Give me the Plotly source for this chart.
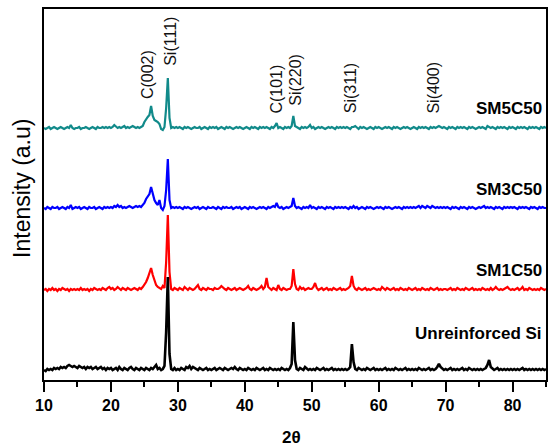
import plotly.graph_objects as go

# ---- scan grid (2theta) ----
SCAN_START = 10.0
SCAN_STEP = 0.25

# ---- intensities (a.u.), relative to each pattern's own baseline ----
UNREINFORCED_SI = [
    2,1,3,2,3,2,4,3,4,3,5,4,5,4,6,7,6,5,6,5,
    4,6,5,4,5,3,5,4,5,3,4,5,3,4,5,3,4,2,4,3,
    4,2,3,4,2,5,3,2,4,3,2,4,5,3,2,4,3,2,4,3,
    2,4,3,2,4,3,5,7,3,4,2,3,6,40,95,18,3,2,4,2,
    3,2,4,3,2,5,4,6,3,5,4,3,2,4,3,2,3,4,2,3,
    2,3,4,2,3,4,3,2,4,3,2,3,4,3,5,3,2,4,3,2,
    3,2,4,3,2,3,2,4,3,2,3,4,2,3,2,4,3,2,3,2,
    3,2,4,3,2,3,2,4,8,50,12,3,2,4,3,2,5,3,2,3,
    2,3,2,4,3,2,3,4,2,3,2,3,4,2,3,2,3,2,3,2,
    3,2,3,5,28,10,3,2,4,3,2,3,2,4,3,2,3,4,2,3,
    2,3,2,3,4,2,3,2,3,2,4,3,2,3,2,3,4,2,3,2,
    3,2,3,2,4,3,2,3,2,3,4,2,3,2,3,5,8,5,3,2,
    3,2,3,4,2,3,2,3,2,3,4,2,3,2,4,3,2,3,2,3,
    2,3,2,3,4,7,12,5,3,2,3,4,2,3,2,3,2,3,2,3,
    2,3,2,3,2,3,4,2,3,2,3,2,3,2,3,2,3,2,3,2,
    3,
]
SM1C50 = [
    2,3,1,3,2,4,2,3,1,3,2,4,3,2,3,1,3,2,3,2,
    3,2,4,2,3,2,3,1,3,2,4,3,2,3,2,4,3,2,4,5,
    3,4,2,3,5,3,2,4,3,2,4,3,2,3,4,3,2,4,3,5,
    7,10,14,19,24,17,11,7,5,4,3,6,4,30,77,20,3,2,4,3,
    2,4,3,2,5,3,2,4,3,2,3,5,7,3,2,4,3,2,4,3,
    3,2,4,3,3,4,6,4,3,2,4,3,2,3,4,2,3,4,3,2,
    3,4,6,3,2,4,3,2,3,4,6,3,5,14,5,3,2,4,3,2,
    7,3,2,4,3,2,3,3,6,23,8,3,2,5,3,4,2,3,4,3,
    3,5,9,4,2,3,4,2,3,4,2,3,2,4,3,2,3,4,2,3,
    2,3,4,6,16,6,3,2,4,3,2,3,4,2,3,2,3,4,3,2,
    3,2,5,3,2,4,3,2,3,4,2,3,2,4,3,2,3,2,4,3,
    2,3,4,2,3,2,4,3,2,3,2,4,3,2,3,4,2,3,2,3,
    3,2,3,4,2,3,2,4,3,2,3,2,4,3,2,3,4,2,3,2,
    3,2,4,3,2,3,2,4,2,3,5,3,2,3,2,3,4,5,3,2,
    3,2,3,4,2,3,5,2,3,2,4,3,2,3,2,3,2,4,3,2,
    3,
]
SM3C50 = [
    2,1,3,2,1,3,2,2,3,1,2,3,2,1,3,2,5,1,2,3,
    2,3,1,2,3,2,1,3,2,2,3,1,2,3,2,1,3,2,3,2,
    3,2,4,3,5,3,4,2,3,2,3,4,3,2,3,4,3,4,3,5,
    7,11,14,16,23,15,10,7,5,10,2,0,4,20,51,10,2,3,2,3,
    2,3,2,1,3,2,3,2,1,2,3,2,3,1,2,3,2,1,3,2,
    2,3,2,1,3,2,1,3,2,3,2,2,3,1,2,3,2,3,1,2,
    3,2,1,3,2,3,2,1,2,3,2,3,2,1,3,2,3,4,3,7,
    3,2,3,1,2,3,2,3,4,12,4,2,3,2,1,3,2,3,2,5,
    2,3,2,1,3,2,3,2,1,3,2,3,2,1,3,2,3,2,3,2,
    3,2,1,3,2,4,2,3,1,2,3,2,1,3,2,3,2,1,2,3,
    2,3,2,1,3,2,3,2,1,2,3,2,3,2,1,3,2,3,2,3,
    2,3,2,3,4,2,4,3,2,4,3,2,4,3,2,3,2,3,2,3,
    2,3,2,1,3,2,3,2,1,3,2,3,2,1,3,2,3,2,1,2,
    3,2,3,4,2,3,2,3,2,1,3,2,3,2,1,3,2,3,2,3,
    2,3,2,1,3,2,3,2,3,2,1,3,2,3,2,1,3,2,3,2,
    2,
]
SM5C50 = [
    2,1,2,3,1,2,3,2,1,2,3,2,1,2,3,2,5,2,1,2,
    2,3,1,2,2,3,2,1,2,3,2,1,3,2,2,3,2,3,2,3,
    2,3,5,3,2,3,2,3,4,2,3,2,3,4,3,2,3,2,3,4,
    8,11,13,15,24,14,10,9,8,6,1,0,3,22,52,12,2,3,2,3,
    2,3,2,1,3,2,3,2,1,2,3,2,2,3,1,2,3,2,1,3,
    2,3,2,3,1,2,3,2,1,3,2,3,2,1,2,3,2,3,2,1,
    2,3,2,1,3,2,3,2,1,3,2,3,2,3,2,1,3,2,4,7,
    2,3,2,1,3,2,3,2,4,14,4,3,2,1,3,2,3,2,3,5,
    2,3,1,2,3,2,3,2,1,2,3,2,3,2,1,3,2,3,2,3,
    2,3,2,1,3,3,4,2,1,3,2,3,2,1,2,3,2,1,3,2,
    3,2,1,2,3,2,3,2,1,3,2,3,2,1,2,3,2,3,2,1,
    2,3,2,1,3,2,3,2,3,2,1,3,2,3,2,3,4,3,2,3,
    2,1,3,2,3,2,1,3,2,3,2,3,2,1,3,2,3,2,1,2,
    3,2,3,2,1,4,3,2,3,2,1,3,2,3,2,3,2,1,3,2,
    3,2,1,3,2,3,2,3,2,1,3,2,3,2,3,2,1,3,2,3,
    2,
]

SERIES_NAMES = ["SM5C50", "SM3C50", "SM1C50", "Unreinforced Si"]
SERIES_DATA = [SM5C50, SM3C50, SM1C50, UNREINFORCED_SI]
SERIES_OFFSETS = [250, 170, 88, 8]
SERIES_COLORS = ["#118a8a", "#0000ff", "#ff0000", "#000000"]
SERIES_WIDTHS = [2.2, 2.2, 2.2, 2.6]
SERIES_LABEL_Y = [272, 191, 110, 47]

PEAK_LABELS = ["C(002)", "Si(111)", "C(101)", "Si(220)", "Si(311)", "Si(400)"]
PEAK_LABEL_X = [25.4, 28.8, 44.6, 47.45, 55.75, 68.05]
PEAK_LABEL_Y = [305, 339, 291, 300, 292, 292]

FONT = "Liberation Sans, Arial, sans-serif"

fig = go.Figure()
for name, vals, off, col, w in zip(SERIES_NAMES, SERIES_DATA, SERIES_OFFSETS,
                                   SERIES_COLORS, SERIES_WIDTHS):
    xs = [SCAN_START + SCAN_STEP * i for i in range(len(vals))]
    ys = [v + off for v in vals]
    fig.add_trace(go.Scatter(x=xs, y=ys, mode="lines", name=name,
                             line=dict(color=col, width=w), showlegend=False))

annotations = []
for name, ly in zip(SERIES_NAMES, SERIES_LABEL_Y):
    annotations.append(dict(x=0.996, xref="paper", y=ly, yref="y", text=name,
                            showarrow=False, xanchor="right", yanchor="middle",
                            font=dict(family=FONT, size=17, color="black", weight="bold")))
for t, px, py in zip(PEAK_LABELS, PEAK_LABEL_X, PEAK_LABEL_Y):
    annotations.append(dict(x=px, y=py, xref="x", yref="y", text=t, textangle=-90,
                            showarrow=False, xanchor="center", yanchor="middle",
                            font=dict(family=FONT, size=16, color="#111111")))
annotations.append(dict(x=-0.044, xref="paper", y=192, yref="y", text="Intensity (a.u)",
                        textangle=-90, showarrow=False, xanchor="center", yanchor="middle",
                        font=dict(family=FONT, size=23, color="black")))
annotations.append(dict(x=47.0, xref="x", y=-0.155, yref="paper", text="2θ",
                        showarrow=False, xanchor="center", yanchor="middle",
                        font=dict(family=FONT, size=17, color="black", weight="bold")))

fig.update_layout(
    width=549, height=446,
    margin=dict(l=44, r=1, t=9, b=66),
    paper_bgcolor="white", plot_bgcolor="white",
    annotations=annotations,
    xaxis=dict(range=[10, 85], tick0=10, dtick=10, ticks="outside", ticklen=10,
               tickwidth=2, tickcolor="black", showline=True, linecolor="black",
               linewidth=2, mirror=True, showgrid=False, zeroline=False,
               tickfont=dict(family=FONT, size=16, color="black", weight="bold"),
               minor=dict(dtick=5, ticks="outside", ticklen=5, tickwidth=2,
                          tickcolor="black", showgrid=False)),
    yaxis=dict(range=[0, 371], showticklabels=False, ticks="", showline=True,
               linecolor="black", linewidth=2, mirror=True, showgrid=False,
               zeroline=False),
)

fig.write_html("out.html")
